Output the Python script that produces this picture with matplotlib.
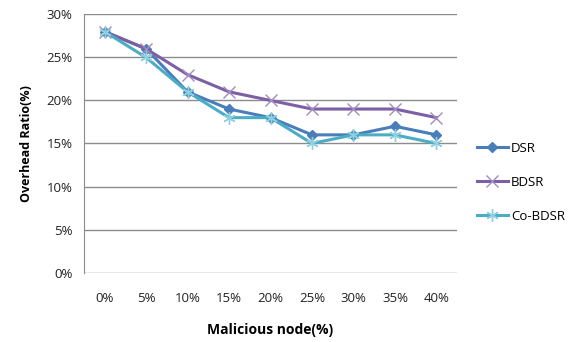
import matplotlib
matplotlib.use("Agg")
import matplotlib.pyplot as plt
from matplotlib.ticker import FuncFormatter

# Du lieu doc tu hinh
categories = ["0%", "5%", "10%", "15%", "20%", "25%", "30%", "35%", "40%"]
dsr = [28, 26, 21, 19, 18, 16, 16, 17, 16]
bdsr = [28, 26, 23, 21, 20, 19, 19, 19, 18]
co_bdsr = [28, 25, 21, 18, 18, 15, 16, 16, 15]
y_ticks = [0, 5, 10, 15, 20, 25, 30]

plt.rcParams["font.family"] = ["Open Sans", "DejaVu Sans"]

fig = plt.figure(figsize=(5.78, 3.42), dpi=100)
ax = fig.add_axes([0.145, 0.203, 0.646, 0.755])

x = list(range(len(categories)))
ax.plot(x, dsr, color="#4a7ebb", lw=2.2, marker="D", ms=5.5, label="DSR")
ax.plot(x, bdsr, color="#7d5fa6", lw=2.2, marker="x", ms=8, mew=1.0,
        markeredgecolor="#a08cc0", label="BDSR")
ax.plot(x, co_bdsr, color="#4bacc6", lw=2.2, marker=(6, 2, 0), ms=9, mew=1.0,
        markeredgecolor="#8fd0e0", label="Co-BDSR")

ax.set_xlim(-0.5, len(categories) - 0.5)
ax.set_ylim(0, 30)
ax.set_xticks(x)
ax.set_xticklabels(categories)
ax.set_yticks(y_ticks)
ax.yaxis.set_major_formatter(FuncFormatter(lambda v, p: f"{v:.0f}%"))
ax.tick_params(axis="both", labelsize=9.5, length=0, colors="#222222")
ax.tick_params(axis="x", pad=14)
ax.tick_params(axis="y", pad=8)
ax.yaxis.grid(True, color="#8c8c8c", lw=1.0)
ax.set_axisbelow(True)
for s in ["top", "right", "bottom"]:
    ax.spines[s].set_visible(False)
ax.spines["left"].set_color("#8c8c8c")

ax.set_ylabel("Overhead Ratio(%)", fontsize=9, fontweight="bold", labelpad=10)
ax.set_xlabel("Malicious node(%)", fontsize=10, fontweight="bold", labelpad=13)

ax.legend(loc="center left", bbox_to_anchor=(1.02, 0.35), frameon=False,
          fontsize=9.5, handlelength=2.4, labelspacing=1.6, handletextpad=0.2)

fig.savefig("out.png", dpi=100)
